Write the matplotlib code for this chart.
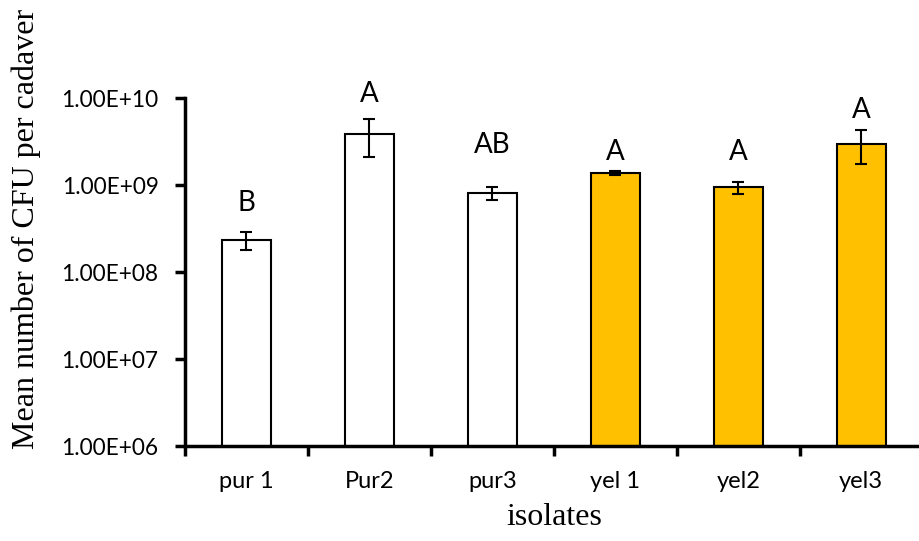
import matplotlib.pyplot as plt
import numpy as np

isolates = ['pur 1', 'Pur2', 'pur3', 'yel 1', 'yel2', 'yel3']
cfu_mean = [2.33e8, 3.9e9, 8.1e8, 1.37e9, 9.5e8, 3.0e9]
cfu_err = [0.55e8, 1.8e9, 1.3e8, 0.08e9, 1.5e8, 1.27e9]
groups = ['B', 'A', 'AB', 'A', 'A', 'A']
group_y = [5.0e8, 9.0e9, 2.33e9, 1.94e9, 1.94e9, 5.9e9]   # baseline of letters

colours = ['white'] * 3 + ['#FFC000'] * 3

fig = plt.figure(figsize=(9.2, 5.41), dpi=100)
ax = fig.add_axes([0.201, 0.1756, 0.802, 0.643])

x = np.arange(len(isolates))
ax.bar(x, cfu_mean, width=0.4, color=colours, edgecolor='black', linewidth=1.5,
       yerr=cfu_err, capsize=4.5, error_kw=dict(elinewidth=1.5, capthick=1.5, ecolor='black'),
       zorder=2)

for i, g in enumerate(groups):
    ax.text(x[i], group_y[i], g, ha='center', va='baseline', fontsize=20,
            family='Lato')

ax.set_yscale('log')
ax.set_ylim(1e6, 1e10)
ax.set_xlim(-0.5, 5.5)
ax.set_yticks([1e6, 1e7, 1e8, 1e9, 1e10])
ax.set_yticklabels(['1.00E+06', '1.00E+07', '1.00E+08', '1.00E+09', '1.00E+10'])
ax.yaxis.set_minor_locator(plt.NullLocator())
ax.set_xticks(np.arange(-0.5, 6, 1.0))
ax.set_xticklabels([])
ax.set_xticks(x, minor=True)
ax.set_xticklabels(isolates, minor=True)

for lab in ax.get_yticklabels():
    lab.set_family('Lato')
    lab.set_fontsize(16.3)
for lab in ax.get_xticklabels(minor=True):
    lab.set_family('Lato')
    lab.set_fontsize(17)

ax.tick_params(axis='y', which='major', direction='out', length=7, width=2.5, pad=12)
ax.tick_params(axis='x', which='major', direction='out', length=7, width=2.5)
ax.tick_params(axis='x', which='minor', length=0, pad=18)

ax.spines['top'].set_visible(False)
ax.spines['right'].set_visible(False)
ax.spines['left'].set_linewidth(2.5)
ax.spines['bottom'].set_linewidth(2.5)

ax.set_ylabel('Mean number of CFU per cadaver', family='Liberation Serif', fontsize=23)
ax.set_xlabel('isolates', family='Liberation Serif', fontsize=23)
ax.yaxis.set_label_coords(-0.195, 0.624)
ax.xaxis.set_label_coords(0.5, -0.165)

fig.savefig('out.png', dpi=100)
